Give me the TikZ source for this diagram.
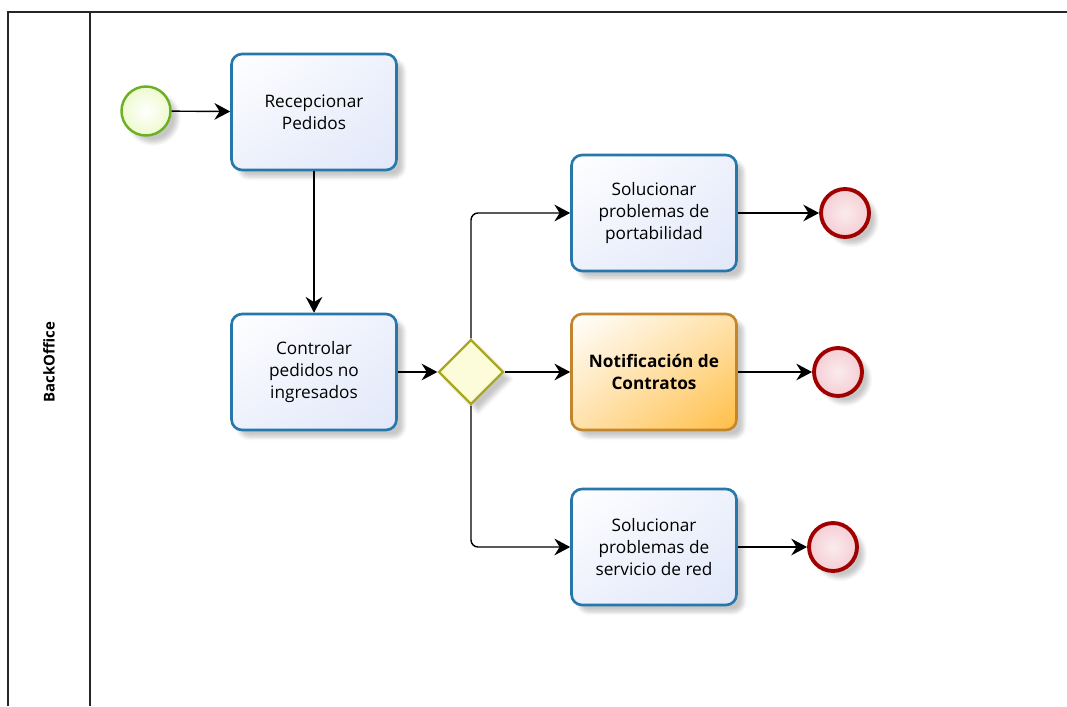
\documentclass[tikz,border=0pt]{standalone}
\usepackage{fontspec}
\setmainfont{Open Sans}
\usetikzlibrary{arrows.meta,shapes.geometric,shadings,shadows.blur}

\definecolor{taskline}{RGB}{38,120,170}
\definecolor{taskfill}{RGB}{226,232,250}
\definecolor{notifline}{RGB}{196,134,44}
\definecolor{notiffill}{RGB}{255,190,70}
\definecolor{gwline}{RGB}{168,168,30}
\definecolor{gwfill}{RGB}{252,252,218}
\definecolor{startline}{RGB}{108,176,36}
\definecolor{startfill}{RGB}{238,250,206}
\definecolor{endline}{RGB}{160,0,0}
\definecolor{endfill}{RGB}{244,206,212}

\begin{document}
\begin{tikzpicture}[x=0.02cm,y=-0.02cm,
    shadowed/.style={blur shadow={shadow xshift=4pt,shadow yshift=-4pt,shadow opacity=22,shadow blur steps=6}},
    task/.style={shadowed,draw=taskline,line width=1.5pt,rounded corners=6pt,
      upper left=white,upper right=taskfill!60,lower left=taskfill!60,lower right=taskfill,
      minimum width=3.3cm,minimum height=2.32cm,align=center,font=\fontsize{9.8}{12.5}\selectfont},
    notiftask/.style={task,draw=notifline,
      upper left=white,upper right=notiffill!45,lower left=notiffill!45,lower right=notiffill,
      font=\fontsize{9.8}{12.5}\selectfont\bfseries},
    gateway/.style={shadowed,diamond,draw=gwline,line width=1.3pt,fill=gwfill,
      minimum width=1.3cm,minimum height=1.3cm,inner sep=0pt},
    startev/.style={shadowed,circle,draw=startline,line width=1.4pt,
      inner color=white,outer color=startfill,minimum size=0.98cm,inner sep=0pt},
    endev/.style={shadowed,circle,draw=endline,line width=2.2pt,
      inner color=white!60!endfill,outer color=endfill,minimum size=0.96cm,inner sep=0pt},
    flow/.style={line width=0.8pt,-{Stealth[length=9pt,width=9.5pt,inset=3pt]}},
    lane/.style={line width=1.1pt,draw=black!85}]
  \useasboundingbox (0,0) rectangle (1067,706);

  \draw[lane] (8,706) -- (8,12) -- (1067,12);
  \draw[lane] (90,12) -- (90,706);
  \node[rotate=90,font=\fontsize{8.5}{10}\selectfont\bfseries] (lanename) at (49,362) {BackOffice};

  \node[startev] (start) at (146,111) {};
  \node[task] (recepcionar) at (314,112) {Recepcionar\\Pedidos};
  \node[task] (controlar) at (314,372) {Controlar\\pedidos no\\ingresados};
  \node[gateway] (gw) at (471,372) {};
  \node[task] (portab) at (654,213) {Solucionar\\problemas de\\portabilidad};
  \node[notiftask] (notif) at (654,372) {Notificación de\\Contratos};
  \node[task] (servred) at (654,547) {Solucionar\\problemas de\\servicio de red};
  \node[endev] (end1) at (845,213) {};
  \node[endev] (end2) at (838,372) {};
  \node[endev] (end3) at (833,547) {};

  \draw[flow] (start) -- (recepcionar);
  \draw[flow] (recepcionar) -- (controlar);
  \draw[flow] (controlar) -- (gw);
  \draw[flow] (gw) -- (notif);
  \draw[flow,rounded corners=4pt] (gw.north) |- (portab);
  \draw[flow,rounded corners=4pt] (gw.south) |- (servred);
  \draw[flow] (portab) -- (end1);
  \draw[flow] (notif) -- (end2);
  \draw[flow] (servred) -- (end3);
\end{tikzpicture}
\end{document}
